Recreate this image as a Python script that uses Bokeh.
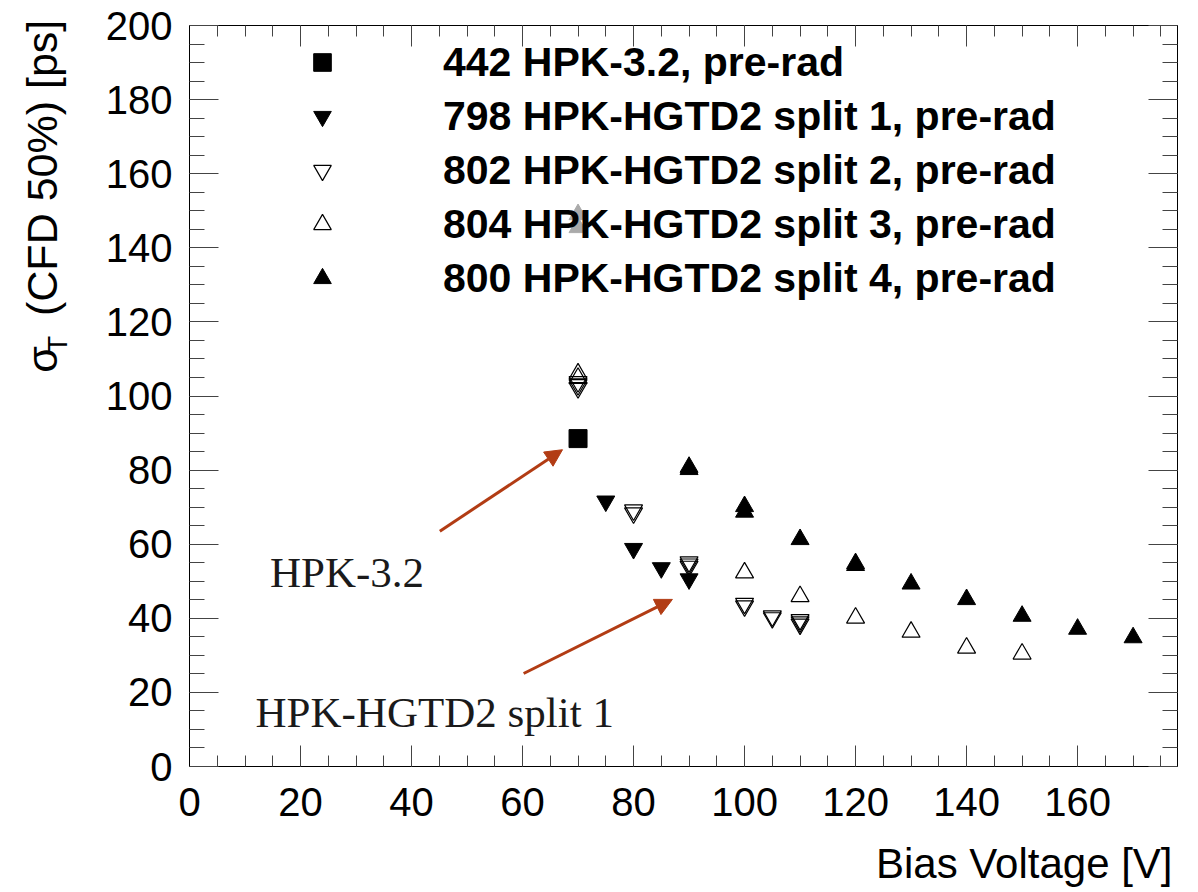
from bokeh.plotting import figure
from bokeh.models import (Range1d, SingleIntervalTicker, LinearAxis, Label, Arrow,
                          NormalHead, Legend, LegendItem, CustomJSTickFormatter)
from bokeh.embed import file_html
from bokeh.resources import INLINE
import math

# ---------------- data ----------------
v_442 = [70]
t_442 = [88.5]

v_798 = [75, 80, 85, 90]
t_798 = [71.6, 58.8, 53.6, 50.6]

v_802 = [70, 70, 70, 80, 80, 90, 90, 90, 100, 100, 105, 105, 110, 110, 110]
t_802 = [103.8, 103.0, 102.2, 69.2, 68.4, 55.2, 54.6, 54.0, 44.0, 43.3, 40.6, 40.1, 39.6, 39.0, 38.4]

v_804 = [70, 70, 100, 110, 120, 130, 140, 150]
t_804 = [106.0, 104.8, 52.3, 45.9, 40.1, 36.3, 32.0, 30.4]

v_800 = [90, 90, 100, 100, 110, 120, 120, 130, 140, 150, 160, 170]
t_800 = [80.8, 80.2, 70.2, 68.7, 61.3, 54.8, 54.3, 49.3, 45.1, 40.6, 37.1, 34.8]

v_grey = [70, 70]
t_grey = [149.0, 145.5]

labels = ["442 HPK-3.2, pre-rad",
          "798 HPK-HGTD2 split 1, pre-rad",
          "802 HPK-HGTD2 split 2, pre-rad",
          "804 HPK-HGTD2 split 3, pre-rad",
          "800 HPK-HGTD2 split 4, pre-rad"]

note_texts = ["HPK-3.2", "HPK-HGTD2 split 1"]
note_x = [14.5, 11.9]
note_y = [52.4, 14.6]
arrow_start_x = [45.1, 60.2]
arrow_start_y = [63.5, 25.1]
arrow_end_x = [67.2, 87.0]
arrow_end_y = [85.5, 45.1]

# ---------------- figure ----------------
p = figure(width=1198, height=892, output_backend="svg", toolbar_location=None,
           x_range=Range1d(0, 178), y_range=Range1d(0, 200),
           min_border_left=189, min_border_right=21, min_border_top=25,
           min_border_bottom=126)
p.background_fill_color = "white"
p.border_fill_color = "white"
p.outline_line_color = "black"
p.outline_line_width = 1
p.grid.visible = False

FONT = "Liberation Sans"


def style_axis(ax, major_in, minor_in, show_labels):
    ax.ticker = SingleIntervalTicker(interval=20, num_minor_ticks=4)
    ax.major_tick_in = major_in
    ax.major_tick_out = 0
    ax.minor_tick_in = minor_in
    ax.minor_tick_out = 0
    ax.axis_line_color = "black"
    ax.major_tick_line_color = "#444444"
    ax.minor_tick_line_color = "#444444"
    ax.major_label_text_font = FONT
    ax.major_label_text_color = "black"
    if show_labels:
        ax.major_label_text_font_size = "40px"
    else:
        ax.formatter = CustomJSTickFormatter(code="return ''")
        ax.major_label_text_font_size = "1px"
        ax.major_label_standoff = 0


xb = p.xaxis[0]
yl = p.yaxis[0]
style_axis(xb, 21, 11, True)
style_axis(yl, 29, 15, True)
xb.major_label_standoff = 21
yl.major_label_standoff = 17

xt = LinearAxis()
style_axis(xt, 21, 11, False)
p.add_layout(xt, "above")
yr = LinearAxis()
style_axis(yr, 29, 15, False)
p.add_layout(yr, "right")

# ---------------- data marks ----------------
p.scatter(v_grey, t_grey, marker="triangle", size=18, fill_color="#aaaaaa",
          line_color="#aaaaaa")
r442 = p.scatter(v_442, t_442, marker="square", size=18, fill_color="black",
                 line_color="black")
r798 = p.scatter(v_798, t_798, marker="inverted_triangle", size=18,
                 fill_color="black", line_color="black")
r802 = p.scatter(v_802, t_802, marker="inverted_triangle", size=18,
                 fill_color=None, line_color="black", line_width=1.2)
r804 = p.scatter(v_804, t_804, marker="triangle", size=18,
                 fill_color=None, line_color="black", line_width=1.2)
r800 = p.scatter(v_800, t_800, marker="triangle", size=18,
                 fill_color="black", line_color="black")

legend = Legend(items=[LegendItem(label=labels[0], renderers=[r442]),
                       LegendItem(label=labels[1], renderers=[r798]),
                       LegendItem(label=labels[2], renderers=[r802]),
                       LegendItem(label=labels[3], renderers=[r804]),
                       LegendItem(label=labels[4], renderers=[r800])],
                location=(111, 464))
legend.glyph_width = 44
legend.glyph_height = 48
legend.label_height = 48
legend.spacing = 6
legend.padding = 0
legend.margin = 0
legend.label_standoff = 99
legend.label_text_font = FONT
legend.label_text_font_style = "bold"
legend.label_text_font_size = "41px"
legend.label_text_color = "black"
legend.background_fill_alpha = 0
legend.border_line_alpha = 0
p.add_layout(legend, "center")

# ---------------- annotations ----------------
ACOL = "#b23c14"
for i in range(2):
    p.add_layout(Arrow(end=NormalHead(size=17, fill_color=ACOL, line_color=ACOL),
                       x_start=arrow_start_x[i], y_start=arrow_start_y[i],
                       x_end=arrow_end_x[i], y_end=arrow_end_y[i],
                       line_color=ACOL, line_width=3))
    p.add_layout(Label(x=note_x[i], y=note_y[i], text=note_texts[i],
                       text_font="Liberation Serif", text_font_size="43px",
                       text_color="#1a1a1a", text_baseline="alphabetic",
                       text_align="left"))

# axis titles: placed in side panels (not clipped), positioned via data scales
p.add_layout(Label(x=177.1, y=-26.2, text="Bias Voltage [V]", text_font=FONT,
                   text_font_size="42px", text_color="black", text_align="right",
                   text_baseline="alphabetic"), "below")
p.add_layout(Label(x=-26.6, y=106.3, text="σ\u2002\u2009(CFD 50%) [ps]",
                   text_font=FONT, text_font_size="43px", text_color="black",
                   text_align="left", text_baseline="alphabetic",
                   angle=math.pi / 2), "left")
p.add_layout(Label(x=-23.8, y=111.6, text="T", text_font=FONT,
                   text_font_size="28px", text_color="black", text_align="left",
                   text_baseline="alphabetic", angle=math.pi / 2), "left")

open("out.html", "w").write(file_html(p, INLINE))
